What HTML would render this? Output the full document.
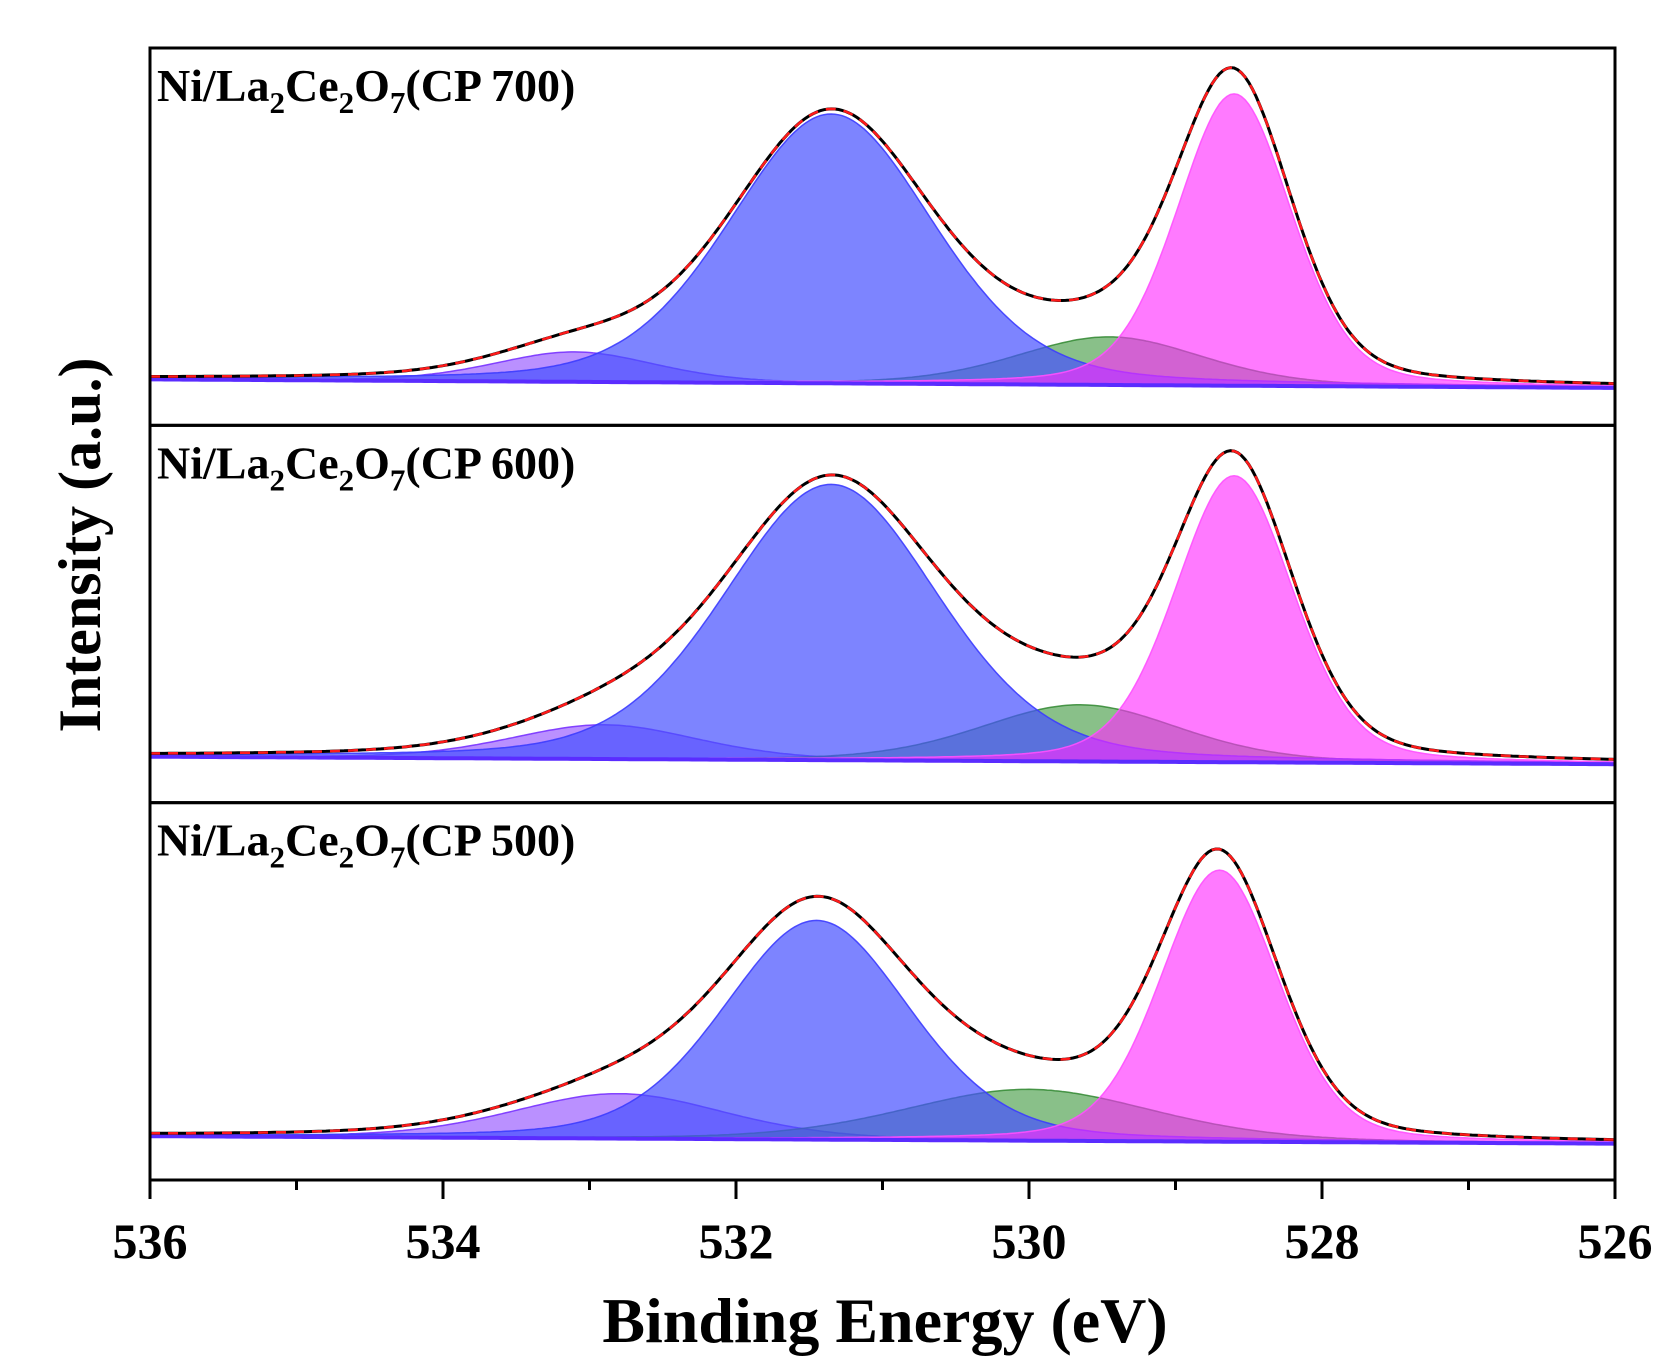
<!DOCTYPE html>
<html><head><meta charset="utf-8"><style>
body{margin:0;background:#fff}
svg{display:block}
text{font-family:"Liberation Serif",serif;font-weight:bold;fill:#000}
</style></head><body>
<svg id="chart" width="1668" height="1372" viewBox="0 0 1668 1372" xmlns="http://www.w3.org/2000/svg"></svg>
<script>
// ---- data ----
const xTicks = [536, 534, 532, 530, 528, 526];
const minorTicks = [535, 533, 531, 529, 527];
const panelNames = ["CP 700", "CP 600", "CP 500"];
// component centers (eV)
const pinkCenter = [528.6, 528.6, 528.7];
const blueCenter = [531.35, 531.35, 531.45];
const greenCenter = [529.45, 529.65, 530.0];
const purpleCenter = [533.1, 532.9, 532.8];
// component heights (a.u.)
const pinkHeight = [273, 268, 254];
const blueHeight = [252, 258, 205];
const greenHeight = [45, 53, 48];
const purpleHeight = [28, 32, 42];
// component FWHM (eV)
const pinkWidth = [0.92, 0.95, 0.95];
const blueWidth = [1.64, 1.72, 1.5];
const greenWidth = [1.5, 1.6, 2.0];
const purpleWidth = [1.3, 1.5, 1.7];
// baseline (a.u.) at 536 eV and 526 eV
const baseLeft = [43, 43, 41];
const baseRight = [35, 36, 34];

const svg = document.getElementById('chart');
const NS = 'http://www.w3.org/2000/svg';
const L = 150, R = 1615, T = 48, B = 1180;
const PH = (B - T) / 3;
const K = 1.069;
const ETA = 0.25;
const xs = v => L + (536 - v) / 10 * (R - L);
function mk(tag, attrs, parent) {
  const e = document.createElementNS(NS, tag);
  for (const k in attrs) e.setAttribute(k, attrs[k]);
  (parent || svg).appendChild(e);
  return e;
}
function peak(x, c, h, w) {
  const s = w / 2.3548;
  const gg = Math.exp(-((x - c) ** 2) / (2 * s * s));
  const ll = 1 / (1 + ((x - c) / (w / 2)) ** 2);
  return h * ((1 - ETA) * gg + ETA * ll);
}

const comps = [
  ['purple', purpleCenter, purpleHeight, purpleWidth, 'rgba(140,70,255,0.6)', 'rgba(120,50,255,0.9)'],
  ['green', greenCenter, greenHeight, greenWidth, 'rgba(40,140,40,0.55)', 'rgba(40,130,40,0.8)'],
  ['blue', blueCenter, blueHeight, blueWidth, 'rgba(70,80,255,0.7)', 'rgba(60,60,255,0.9)'],
  ['pink', pinkCenter, pinkHeight, pinkWidth, 'rgba(255,40,255,0.62)', 'rgba(255,80,255,0.9)']
];

for (let p = 0; p < 3; p++) {
  const top = T + p * PH, bot = top + PH;
  const g = mk('g', {});
  
  
  const ys = v => bot - v * K;
  const base = x => baseLeft[p] + (baseRight[p] - baseLeft[p]) * (536 - x) / 10;
  const N = 400;
  const xsArr = [];
  for (let i = 0; i <= N; i++) xsArr.push(536 - 10 * i / N);
  const env = xsArr.map(x => base(x));
  comps.forEach(([name, c, h, w, fill, stroke]) => {
    let d = '';
    xsArr.forEach((x, i) => { const pk = peak(x, c[p], h[p], w[p]); env[i] += pk; d += (i ? 'L' : 'M') + xs(x).toFixed(1) + ',' + ys(base(x) + pk).toFixed(1); });
    for (let i = N; i >= 0; i--) d += 'L' + xs(xsArr[i]).toFixed(1) + ',' + ys(base(xsArr[i])).toFixed(1);
    const el = mk('path', { d: d + 'Z', fill: fill, stroke: stroke, 'stroke-width': 1.5 }, g);
    
    
  });
  let bd = '';
  xsArr.forEach((x, i) => { bd += (i ? 'L' : 'M') + xs(x).toFixed(1) + ',' + ys(base(x)).toFixed(1); });
  const bl = mk('path', { d: bd, fill: 'none', stroke: '#5a2cff', 'stroke-width': 4 }, g);
  
  
  let ed = '';
  xsArr.forEach((x, i) => { ed += (i ? 'L' : 'M') + xs(x).toFixed(1) + ',' + ys(env[i]).toFixed(1); });
  const el1 = mk('path', { d: ed, fill: 'none', stroke: '#000', 'stroke-width': 3 }, g);
  
  
  const el2 = mk('path', { d: ed, fill: 'none', stroke: '#ff1a1a', 'stroke-width': 2.5, 'stroke-dasharray': '10,8' }, g);
  
  
  const t = mk('text', { x: 157, y: top + 53, 'font-size': 46 }, g);
  
  
  t.innerHTML = 'Ni/La<tspan font-size="31" dy="12">2</tspan><tspan dy="-12">Ce</tspan><tspan font-size="31" dy="12">2</tspan><tspan dy="-12">O</tspan><tspan font-size="31" dy="12">7</tspan><tspan dy="-12">(' + panelNames[p] + ')</tspan>';
  const fr = mk('rect', { x: L, y: top, width: R - L, height: PH, fill: 'none', stroke: '#000', 'stroke-width': 3 }, g);
  
  
}
xTicks.forEach(v => {
  const tk = mk('line', { x1: xs(v), x2: xs(v), y1: B, y2: B + 19, stroke: '#000', 'stroke-width': 3 });
  
  
  const tl = mk('text', { x: xs(v), y: 1258, 'font-size': 50, 'text-anchor': 'middle' });
  
  
  tl.textContent = v;
});
minorTicks.forEach(v => {
  const tk = mk('line', { x1: xs(v), x2: xs(v), y1: B, y2: B + 10, stroke: '#000', 'stroke-width': 3 });
  
  
});
const xt = mk('text', { x: 885, y: 1342, 'font-size': 64, 'text-anchor': 'middle' });


xt.textContent = 'Binding Energy (eV)';
const yt = mk('text', { x: 0, y: 0, 'font-size': 60, 'text-anchor': 'middle', transform: 'translate(100,545) rotate(-90)' });


yt.textContent = 'Intensity (a.u.)';
</script>
</body></html>
